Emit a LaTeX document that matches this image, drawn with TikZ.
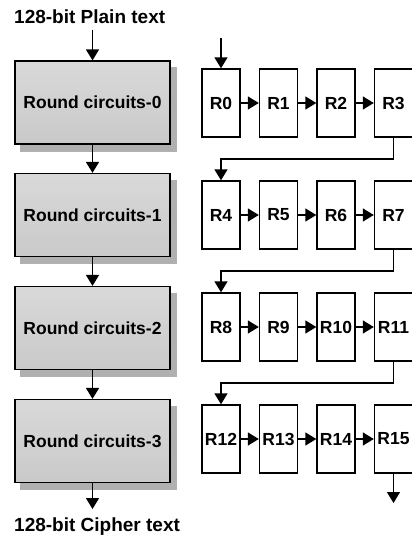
\documentclass[tikz,border=0pt]{standalone}
\usepackage{fontspec}
\setmainfont{Liberation Sans}
\usetikzlibrary{arrows.meta,backgrounds}

\tikzset{
  x=1pt, y=-1pt,
  conn/.style={line width=1.5pt, -{Triangle[length=11pt,width=13pt]}},
  stage/.style={draw=black, line width=1.2pt, minimum width=155pt, minimum height=83pt,
    top color=gray!30, middle color=gray!10, bottom color=gray!42,
    font=\fontsize{17.5}{19}\selectfont\bfseries, inner sep=0pt},
  stageshadow/.style={fill=gray!62},
  reg/.style={draw=black, line width=1.4pt, fill=white, minimum width=38pt,
    minimum height=68pt, inner sep=0pt, font=\fontsize{17.5}{19}\selectfont\bfseries},
  caption/.style={anchor=west, inner sep=0pt, font=\fontsize{19}{21}\selectfont\bfseries}
}

\begin{document}
\begin{tikzpicture}
\useasboundingbox (0,0) rectangle (412,538);

% input and output labels
\node[caption] (plain)  at (14,17)  {128-bit Plain text};
\node[caption] (cipher) at (14,527) {128-bit Cipher text};

% the four round stages
\node[stage] (c0) at (92.5,102.5) {Round circuits-0};
\node[stage] (c1) at (92.5,215)   {Round circuits-1};
\node[stage] (c2) at (92.5,328)   {Round circuits-2};
\node[stage] (c3) at (92.5,441)   {Round circuits-3};

% offset shadows behind the stages
\begin{scope}[on background layer]
  \foreach \c in {c0,c1,c2,c3}
    \fill[stageshadow] ([shift={(6,7)}]\c.north west) rectangle ([shift={(6,7)}]\c.south east);
\end{scope}

\coordinate (cin)  at (92.5,30);
\coordinate (cout) at (92.5,509);
\draw[conn] (cin) -- (c0.north);
\draw[conn] (c0.south) -- (c1.north);
\draw[conn] (c1.south) -- (c2.north);
\draw[conn] (c2.south) -- (c3.north);
\draw[conn] (c3.south) -- (cout);

% sixteen round registers, four per row
\foreach \row in {0,1,2,3}{
  \foreach \col in {0,1,2,3}{
    \pgfmathtruncatemacro{\idx}{4*\row+\col}
    \node[reg] (r\idx) at (221+57.5*\col, 103+112*\row) {R\idx};
  }
}

% data path through the registers
\coordinate (rin)  at (221,38);
\coordinate (rout) at (393.5,503);
\draw[conn] (rin) -- (r0.north);
\foreach \row in {0,1,2,3}{
  \foreach \col in {0,1,2}{
    \pgfmathtruncatemacro{\a}{4*\row+\col}
    \pgfmathtruncatemacro{\b}{\a+1}
    \draw[conn] (r\a.east) -- (r\b.west);
  }
}
\foreach \a/\b/\y in {3/4/159, 7/8/271, 11/12/383}{
  \draw[conn] (r\a.south) |- (221,\y) -- (r\b.north);
}
\draw[conn] (r15.south) -- (rout);
\end{tikzpicture}
\end{document}
